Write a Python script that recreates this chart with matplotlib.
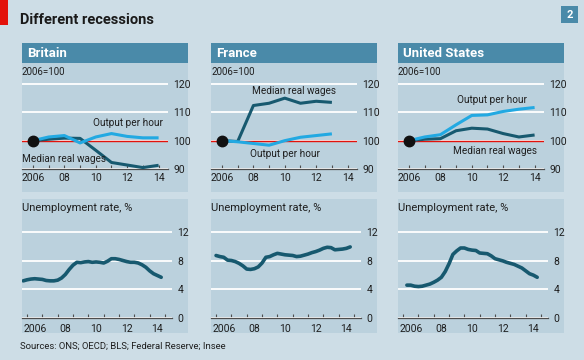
import matplotlib
matplotlib.use("Agg")
import matplotlib.pyplot as plt
from matplotlib.patches import Rectangle
from matplotlib import font_manager as fm

# ---------------- data ----------------
countries = ["Britain", "France", "United States"]

years_uk = [2006, 2007, 2008, 2009, 2010, 2011, 2012, 2013, 2014]
uk_output = [100, 101.3, 101.8, 99.2, 101.3, 102.5, 101.5, 101.0, 101.0]
uk_wages = [100, 100.5, 100.9, 100.8, 96.6, 92.3, 91.4, 90.5, 91.3]

years_fr = [2006, 2007, 2008, 2009, 2010, 2011, 2012, 2013]
fr_output = [100, 99.6, 99.0, 98.4, 100.0, 101.2, 101.8, 102.4]
fr_wages = [100, 99.7, 112.4, 113.2, 115.0, 113.2, 113.9, 113.5]

years_us = [2006, 2007, 2008, 2009, 2010, 2011, 2012, 2013, 2014]
us_output = [100, 101.3, 102.1, 105.6, 108.9, 109.1, 110.3, 111.1, 111.7]
us_wages = [100, 100.5, 100.7, 103.5, 104.4, 104.1, 102.5, 101.3, 102.0]

# unemployment, quarterly (decimal year)
uk_unemp_start = 2005.75
uk_unemp = [5.2, 5.35, 5.45, 5.5, 5.45, 5.4, 5.25, 5.2, 5.2, 5.3, 5.6, 6.1,
            6.8, 7.4, 7.8, 7.75, 7.85, 7.9, 7.8, 7.85, 7.8, 7.7, 7.95, 8.3,
            8.3, 8.2, 8.05, 7.9, 7.8, 7.8, 7.7, 7.45, 7.1, 6.6, 6.2, 5.95, 5.7]
fr_unemp_start = 2006.0
fr_unemp = [8.75, 8.6, 8.5, 8.1, 8.05, 7.9, 7.65, 7.3, 6.85, 6.8, 6.9, 7.15,
            7.7, 8.5, 8.6, 8.85, 9.05, 8.95, 8.85, 8.8, 8.75, 8.6, 8.65, 8.8,
            8.95, 9.15, 9.3, 9.5, 9.75, 9.9, 9.85, 9.55, 9.6, 9.65, 9.75, 9.95]
us_unemp_start = 2006.25
us_unemp = [4.6, 4.6, 4.45, 4.4, 4.45, 4.6, 4.75, 5.0, 5.3, 5.7, 6.5, 7.6,
            8.9, 9.4, 9.8, 9.8, 9.6, 9.5, 9.45, 9.1, 9.05, 9.0, 8.7, 8.3,
            8.15, 8.0, 7.8, 7.65, 7.5, 7.25, 7.0, 6.6, 6.2, 6.0, 5.7]

top_yticks = [90, 100, 110, 120]
bot_yticks = [0, 4, 8, 12]
year_ticks = list(range(2006, 2015))
year_labels = ["2006", "", "08", "", "10", "", "12", "", "14"]
bot_year_ticks = list(range(2006, 2016))
bot_label_pos = [2006.5, 2008.5, 2010.5, 2012.5, 2014.5]
bot_labels = ["2006", "08", "10", "12", "14"]

# ---------------- style ----------------
names = {f.name for f in fm.fontManager.ttflist}
FONT = "Liberation Sans Narrow" if "Liberation Sans Narrow" in names else "Roboto"
plt.rcParams["font.family"] = [FONT, "DejaVu Sans"]

BG = "#cddde6"
PANEL = "#bbd1dd"
HEAD = "#4a8aa9"
DARK = "#17596f"
LIGHT = "#22a9e2"
RED = "#e3120b"
TXT = "#1e1e1e"
AX = "#4d4d4d"

W, H = 584, 360
fig = plt.figure(figsize=(W / 100, H / 100), dpi=100, facecolor=BG)


def frect(x0, y0, x1, y1, color):
    fig.add_artist(Rectangle((x0 / W, 1 - y1 / H), (x1 - x0) / W, (y1 - y0) / H,
                             transform=fig.transFigure, facecolor=color,
                             edgecolor="none", zorder=-5))


def ftext(x, y, s, **kw):
    kw.setdefault("va", "center")
    kw.setdefault("ha", "left")
    kw.setdefault("color", TXT)
    fig.text(x / W, 1 - y / H, s, **kw)


def fax(x0, y0, x1, y1):
    ax = fig.add_axes([x0 / W, 1 - y1 / H, (x1 - x0) / W, (y1 - y0) / H])
    ax.set_facecolor("none")
    ax.set_zorder(2)
    for s in ["top", "left", "right"]:
        ax.spines[s].set_visible(False)
    ax.spines["bottom"].set_color(AX)
    ax.spines["bottom"].set_linewidth(0.9)
    ax.yaxis.tick_right()
    ax.tick_params(axis="y", length=0, pad=4, labelsize=7.5, labelcolor=TXT)
    ax.tick_params(axis="x", which="major", direction="in", length=3, width=0.8,
                   color=AX, labelsize=7.5, labelcolor=TXT, pad=3)
    ax.grid(axis="y", color="white", lw=1.3)
    ax.set_axisbelow(True)
    return ax


# title, red tag, chart number
frect(0, 0, 8, 25, RED)
ftext(20, 20, "Different recessions", fontsize=10.5, fontweight="bold", color="#1a1a1a")
frect(561, 6, 578, 23, HEAD)
ftext(569.5, 14.5, "2", fontsize=8, fontweight="bold", color="white", ha="center")

lefts = [22, 211, 398]
top_data = [(years_uk, uk_output, uk_wages), (years_fr, fr_output, fr_wages),
            (years_us, us_output, us_wages)]
bot_data = [(uk_unemp_start, uk_unemp), (fr_unemp_start, fr_unemp),
            (us_unemp_start, us_unemp)]
label_pos = [((93, 123), (22, 159)), ((250, 154), (252, 91)), ((457, 100), (453, 151))]

for i, name in enumerate(countries):
    L = lefts[i]
    # header and panel backgrounds
    frect(L, 43, L + 166, 63, HEAD)
    ftext(L + 5, 53.5, name, fontsize=9.5, fontweight="bold", color="white")
    frect(L, 63, L + 166, 192, PANEL)
    frect(L, 199, L + 166, 333, PANEL)

    # ---- top: index chart ----
    ax = fax(L, 63, L + 146, 169)
    yrs, out, wag = top_data[i]
    ax.set_xlim(2005.3, 2005.3 + 146 / 15.7)
    ax.set_ylim(90, 127.4)
    ax.set_yticks(top_yticks)
    ax.set_xticks(year_ticks)
    ax.set_xticklabels(year_labels)
    ax.axhline(100, color=RED, lw=1.0, zorder=1.5)
    ax.plot(yrs, wag, color=DARK, lw=2.2, solid_joinstyle="round",
            solid_capstyle="butt", zorder=3)
    ax.plot(yrs, out, color=LIGHT, lw=2.2, solid_joinstyle="round",
            solid_capstyle="butt", zorder=3)
    ax.plot([yrs[0]], [out[0]], "o", color="#111111", ms=7.5, zorder=4)
    ftext(L, 72, "2006=100", fontsize=7, color=TXT)
    (ox, oy), (wx, wy) = label_pos[i]
    ftext(ox, oy, "Output per hour", fontsize=7.2)
    ftext(wx, wy, "Median real wages", fontsize=7.2)

    # ---- bottom: unemployment ----
    bx = fax(L, 199, L + 150, 318)
    start, vals = bot_data[i]
    t = [start + 0.25 * k for k in range(len(vals))]
    bx.set_xlim(2005.67, 2005.67 + 150 / 15.33)
    bx.set_ylim(0, 16.66)
    bx.set_yticks(bot_yticks)
    bx.set_xticks(bot_year_ticks)
    bx.set_xticklabels([])
    bx.set_xticks(bot_label_pos, minor=True)
    bx.set_xticklabels(bot_labels, minor=True)
    bx.tick_params(axis="x", which="minor", length=0, labelsize=7.5,
                   labelcolor=TXT, pad=4)
    bx.plot(t, vals, color=DARK, lw=2.6, solid_joinstyle="round",
            solid_capstyle="round", zorder=3)
    ftext(L, 208, "Unemployment rate, %", fontsize=8)

ftext(20, 346, "Sources: ONS; OECD; BLS; Federal Reserve; Insee", fontsize=6.8)

fig.savefig("out.png", dpi=100, facecolor=BG)
